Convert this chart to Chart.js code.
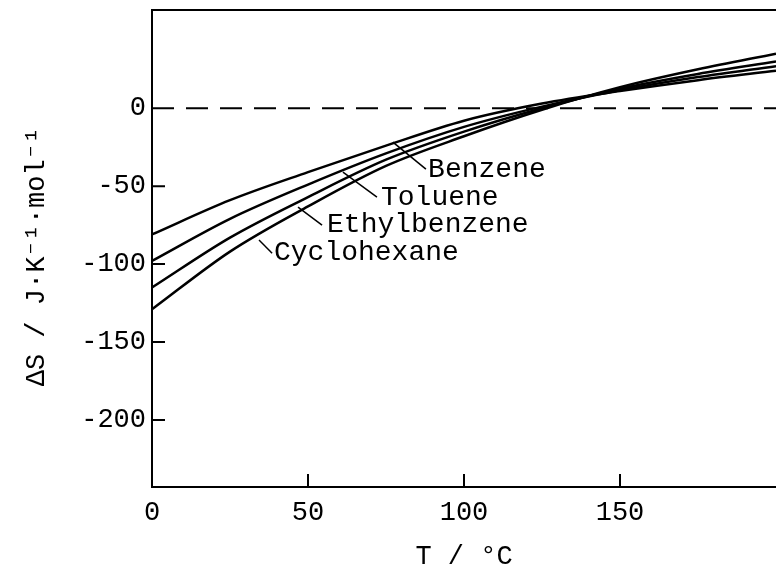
<!DOCTYPE html>
<html>
<head>
<meta charset="utf-8">
<script src="https://cdn.jsdelivr.net/npm/chart.js@4.4.1/dist/chart.umd.min.js"></script>
<style>
  html, body { margin: 0; padding: 0; background: #fff; }
  canvas { display: block; }
</style>
</head>
<body>
<canvas id="chart" width="776" height="570"></canvas>
<script>
  // temperature in degC, entropy change in J/(K mol)
  const temps = [0, 25, 50, 75, 100, 125, 150, 175, 200];
  const benzene = [-81, -59, -41, -24, -8, 3, 11, 18, 24];
  const toluene = [-98, -71, -49, -29, -12, 1, 11.5, 20, 27];
  const ethylbenzene = [-115, -83, -57, -33, -15, 0, 12.5, 22, 30];
  const cyclohexane = [-129, -92, -63, -37, -18, -1, 13.5, 25, 35];

  const zeroT = [0, 200];
  const zeroS = [0, 0];

  const xTickValues = [0, 50, 100, 150];
  const yTickValues = [0, -50, -100, -150, -200];

  // leader lines and labels, in data units (T, dS)
  const notes = [
    { text: "Benzene", from: [77.2, -21.8], to: [87.8, -39.1], at: [88.5, -44.2] },
    { text: "Toluene", from: [61.2, -41], to: [72.1, -57], at: [73.4, -62.2] },
    { text: "Ethylbenzene", from: [46.8, -63.5], to: [54.5, -75], at: [56.1, -79.5] },
    { text: "Cyclohexane", from: [34.3, -84.6], to: [38.5, -93], at: [39.1, -97.4] },
  ];

  const FONT = "'Liberation Mono', 'DejaVu Sans Mono', monospace";
  const INK = "#000";

  function points(xs, ys) {
    return xs.map((x, i) => ({ x, y: ys[i] }));
  }

  function curve(values) {
    return {
      data: points(temps, values),
      borderColor: INK,
      borderWidth: 2.5,
      pointRadius: 0,
      cubicInterpolationMode: "monotone",
      fill: false,
    };
  }

  const frame = {
    id: "frame",
    afterDatasetsDraw(chart) {
      const { ctx, chartArea, scales } = chart;
      const x = scales.x;
      const y = scales.y;
      ctx.save();
      ctx.strokeStyle = INK;
      ctx.lineWidth = 2;
      // top border
      ctx.beginPath();
      ctx.moveTo(chartArea.left, chartArea.top);
      ctx.lineTo(chartArea.right, chartArea.top);
      ctx.stroke();
      // inward ticks
      ctx.beginPath();
      xTickValues.slice(1).forEach((v) => {
        const px = x.getPixelForValue(v);
        ctx.moveTo(px, chartArea.bottom);
        ctx.lineTo(px, chartArea.bottom - 13);
      });
      yTickValues.slice(1).forEach((v) => {
        const py = y.getPixelForValue(v);
        ctx.moveTo(chartArea.left, py);
        ctx.lineTo(chartArea.left + 13, py);
      });
      ctx.stroke();
      // leaders and labels
      ctx.lineWidth = 1.5;
      ctx.fillStyle = INK;
      ctx.font = `28px ${FONT}`;
      ctx.textBaseline = "alphabetic";
      ctx.textAlign = "left";
      notes.forEach((n) => {
        ctx.beginPath();
        ctx.moveTo(x.getPixelForValue(n.from[0]), y.getPixelForValue(n.from[1]));
        ctx.lineTo(x.getPixelForValue(n.to[0]), y.getPixelForValue(n.to[1]));
        ctx.stroke();
        ctx.fillText(n.text, x.getPixelForValue(n.at[0]), y.getPixelForValue(n.at[1]));
      });
      ctx.restore();
    },
  };

  new Chart(document.getElementById("chart"), {
    type: "line",
    data: {
      datasets: [
        {
          data: points(zeroT, zeroS),
          borderColor: INK,
          borderWidth: 2,
          borderDash: [22, 12],
          pointRadius: 0,
          fill: false,
        },
        curve(benzene),
        curve(toluene),
        curve(ethylbenzene),
        curve(cyclohexane),
      ],
    },
    options: {
      responsive: false,
      animation: false,
      layout: { padding: { top: 10, right: 0, left: 0, bottom: 0 } },
      plugins: { legend: { display: false }, tooltip: { enabled: false } },
      scales: {
        x: {
          type: "linear",
          min: 0,
          max: 200,
          afterBuildTicks: (s) => {
            s.ticks = xTickValues.map((v) => ({ value: v }));
          },
          afterFit: (s) => {
            s.height = 83;
            s.paddingLeft = 0;
            s.paddingRight = 0;
          },
          grid: { display: false, drawTicks: false },
          border: { display: true, color: INK, width: 2 },
          ticks: {
            color: INK,
            font: { family: FONT, size: 27 },
            padding: 10,
            maxRotation: 0,
            autoSkip: false,
          },
          title: {
            display: true,
            text: "T / °C",
            color: INK,
            font: { family: FONT, size: 27, lineHeight: 1 },
            padding: 0,
          },
        },
        y: {
          min: -243,
          max: 63,
          afterBuildTicks: (s) => {
            s.ticks = yTickValues.map((v) => ({ value: v }));
          },
          afterFit: (s) => {
            s.width = 152;
            s.paddingTop = 0;
            s.paddingBottom = 0;
          },
          grid: { display: false, drawTicks: false },
          border: { display: true, color: INK, width: 2 },
          ticks: {
            color: INK,
            font: { family: FONT, size: 27 },
            padding: 6,
            autoSkip: false,
          },
          title: {
            display: true,
            text: "ΔS / J·K⁻¹·mol⁻¹ ",
            color: INK,
            font: { family: FONT, size: 27, lineHeight: 1 },
            padding: { top: 23, bottom: 0 },
          },
        },
      },
    },
    plugins: [frame],
  });
</script>
</body>
</html>
